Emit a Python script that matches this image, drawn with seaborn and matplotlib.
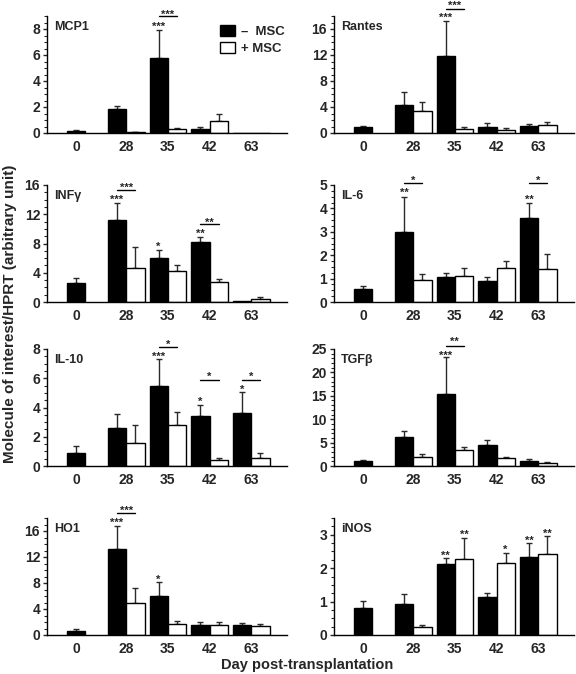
import numpy as np
import pandas as pd
import matplotlib
matplotlib.use("Agg")
import matplotlib.pyplot as plt
from matplotlib.ticker import MultipleLocator, AutoMinorLocator
from matplotlib.patches import Patch
import seaborn as sns

sns.set_style("ticks")
plt.rcParams['font.family'] = ['Liberation Sans', 'DejaVu Sans']
plt.rcParams['font.weight'] = 'bold'

nan = np.nan
days = ['0', '28', '35', '42', '63']
groups = ['\u2013  MSC', '+ MSC']

panels = ['MCP1', 'Rantes', 'INF\u03b3', 'IL-6', 'IL-10', 'TGF\u03b2', 'HO1', 'iNOS']

mcp1_minus = [0.15, 1.85, 5.8, 0.3, 0.0]
mcp1_minus_err = [0.1, 0.25, 2.1, 0.15, 0.0]
mcp1_plus = [nan, 0.05, 0.3, 0.9, 0.0]
mcp1_plus_err = [nan, 0.02, 0.1, 0.55, 0.0]

rantes_minus = [0.95, 4.3, 11.8, 0.95, 1.08]
rantes_minus_err = [0.1, 2.0, 5.5, 0.65, 0.37]
rantes_plus = [nan, 3.45, 0.57, 0.5, 1.29]
rantes_plus_err = [nan, 1.35, 0.3, 0.2, 0.41]

infg_minus = [2.6, 11.15, 6.0, 8.2, 0.1]
infg_minus_err = [0.7, 2.45, 1.1, 0.7, 0.0]
infg_plus = [nan, 4.7, 4.3, 2.7, 0.4]
infg_plus_err = [nan, 2.8, 0.8, 0.4, 0.25]

il6_minus = [0.56, 3.0, 1.05, 0.9, 3.58]
il6_minus_err = [0.13, 1.5, 0.18, 0.17, 0.65]
il6_plus = [nan, 0.95, 1.1, 1.45, 1.42]
il6_plus_err = [nan, 0.24, 0.35, 0.3, 0.63]

il10_minus = [0.91, 2.63, 5.46, 3.4, 3.61]
il10_minus_err = [0.46, 0.91, 1.85, 0.78, 1.42]
il10_plus = [nan, 1.58, 2.79, 0.41, 0.53]
il10_plus_err = [nan, 1.25, 0.87, 0.16, 0.38]

tgfb_minus = [1.0, 6.1, 15.4, 4.4, 1.07]
tgfb_minus_err = [0.3, 1.4, 7.8, 1.2, 0.33]
tgfb_plus = [nan, 1.9, 3.5, 1.77, 0.7]
tgfb_plus_err = [nan, 0.75, 0.6, 0.23, 0.2]

ho1_minus = [0.66, 13.3, 6.0, 1.53, 1.53]
ho1_minus_err = [0.24, 3.5, 2.2, 0.47, 0.37]
ho1_plus = [nan, 4.9, 1.74, 1.58, 1.43]
ho1_plus_err = [nan, 2.4, 0.41, 0.42, 0.27]

inos_minus = [0.82, 0.94, 2.13, 1.15, 2.33]
inos_minus_err = [0.21, 0.3, 0.18, 0.12, 0.42]
inos_plus = [nan, 0.23, 2.28, 2.15, 2.43]
inos_plus_err = [nan, 0.06, 0.62, 0.3, 0.52]

y_max = [9, 18, 16, 5, 8, 25, 18, 3.5]
y_step = [2, 4, 4, 1, 2, 5, 4, 1]

# star marks over bars: (panel, day index, group index, y, text)
stars = [
    (0, 2, 0, 8.4, '***'),
    (1, 2, 0, 18.2, '***'),
    (2, 1, 0, 14.4, '***'), (2, 2, 0, 8.0, '*'), (2, 3, 0, 9.7, '**'),
    (3, 1, 0, 4.8, '**'), (3, 4, 0, 4.5, '**'),
    (4, 2, 0, 7.7, '***'), (4, 3, 0, 4.6, '*'), (4, 4, 0, 5.4, '*'),
    (5, 2, 0, 24.2, '***'),
    (6, 1, 0, 17.7, '***'), (6, 2, 0, 9.0, '*'),
    (7, 2, 0, 2.48, '**'), (7, 2, 1, 3.1, '**'), (7, 3, 1, 2.65, '*'),
    (7, 4, 0, 2.9, '**'), (7, 4, 1, 3.13, '**'),
]
# brackets between -MSC and +MSC: (panel, day index, line y, star y, text)
brackets = [
    (0, 2, 9.0, 9.35, '***'),
    (1, 2, 19.1, 20.0, '***'),
    (2, 1, 15.3, 16.1, '***'), (2, 3, 10.6, 11.3, '**'),
    (3, 1, 5.07, 5.3, '*'), (3, 4, 5.07, 5.3, '*'),
    (4, 2, 8.14, 8.5, '*'), (4, 3, 5.9, 6.3, '*'), (4, 4, 5.9, 6.3, '*'),
    (5, 2, 25.6, 27.2, '**'),
    (6, 1, 18.8, 19.6, '***'),
]

series = [
    (mcp1_minus, mcp1_minus_err, mcp1_plus, mcp1_plus_err),
    (rantes_minus, rantes_minus_err, rantes_plus, rantes_plus_err),
    (infg_minus, infg_minus_err, infg_plus, infg_plus_err),
    (il6_minus, il6_minus_err, il6_plus, il6_plus_err),
    (il10_minus, il10_minus_err, il10_plus, il10_plus_err),
    (tgfb_minus, tgfb_minus_err, tgfb_plus, tgfb_plus_err),
    (ho1_minus, ho1_minus_err, ho1_plus, ho1_plus_err),
    (inos_minus, inos_minus_err, inos_plus, inos_plus_err),
]

# layout
day_pos = [-1.2, 0, 1, 2, 3]
half = 0.22

def bar_x(di, gi):
    if di == 0:
        return day_pos[0]
    return day_pos[di] + (-half if gi == 0 else half)

fig = plt.figure(figsize=(5.76, 6.74), dpi=100)
W, H = 576, 674
col_left = [47, 334]
col_w = 240
rows = [(16, 133), (185, 302), (349, 466), (518, 635)]

palette = {groups[0]: 'black', groups[1]: 'white'}

for p, name in enumerate(panels):
    r, c = divmod(p, 2)
    top, bot = rows[r]
    ax = fig.add_axes([col_left[c] / W, 1 - bot / H, col_w / W, (bot - top) / H])
    mi, mie, pl, ple = series[p]
    recs = []
    for di in range(5):
        for gi, (vals, errs) in enumerate([(mi, mie), (pl, ple)]):
            v = vals[di]
            if v is None or np.isnan(v):
                continue
            recs.append(dict(pos=bar_x(di, gi), val=v, err=errs[di], grp=groups[gi]))
    df = pd.DataFrame(recs)
    sns.barplot(data=df, x='pos', y='val', hue='grp', hue_order=groups, palette=palette,
                native_scale=True, dodge=False, width=1.0, errorbar=None,
                edgecolor='black', linewidth=1.0, legend=False, ax=ax, zorder=2)
    e = df[df['err'] > 0]
    ax.errorbar(e['pos'], e['val'], yerr=[np.zeros(len(e)), e['err']], fmt='none',
                ecolor='#2a2a2a', elinewidth=1.0, capsize=2, capthick=1.0, zorder=1)
    ax.set_xlim(-1.9, 3.86)
    ax.set_ylim(0, y_max[p])
    ax.yaxis.set_major_locator(MultipleLocator(y_step[p]))
    ax.yaxis.set_minor_locator(AutoMinorLocator(4 if p != 5 else 5))
    ax.set_xticks(day_pos)
    ax.set_xticklabels(days)
    ax.tick_params(axis='x', length=0, labelsize=10, pad=5)
    ax.tick_params(axis='y', which='major', length=3, width=1, labelsize=10, pad=2, direction='out')
    ax.tick_params(axis='y', which='minor', length=2, width=0.8, direction='out')
    for lab in ax.get_xticklabels() + ax.get_yticklabels():
        lab.set_fontweight('bold')
    sns.despine(ax=ax)
    for s in ['left', 'bottom']:
        ax.spines[s].set_linewidth(1.0)
        ax.spines[s].set_color('black')
    ax.set_xlabel('')
    ax.set_ylabel('')
    ax.text(0.03, 0.96, name, transform=ax.transAxes, ha='left', va='top',
            fontsize=9, fontweight='bold')
    for (pp, di, gi, y, t) in stars:
        if pp != p:
            continue
        ax.annotate(t, (bar_x(di, gi), y), xytext=(0, -4.5), textcoords='offset points',
                    ha='center', va='baseline', fontsize=8, fontweight='bold', annotation_clip=False)
    for (pp, di, yl, ys, t) in brackets:
        if pp != p:
            continue
        x0, x1 = bar_x(di, 0), bar_x(di, 1)
        ax.plot([x0, x1], [yl, yl], color='black', lw=1.0, clip_on=False)
        ax.annotate(t, ((x0 + x1) / 2, ys), xytext=(0, -4.5), textcoords='offset points',
                    ha='center', va='baseline', fontsize=8, fontweight='bold', annotation_clip=False)
    if p == 0:
        handles = [Patch(facecolor='black', edgecolor='black', label=groups[0]),
                   Patch(facecolor='white', edgecolor='black', label=groups[1])]
        ax.legend(handles=handles, loc='upper right', bbox_to_anchor=(1.03, 1.0), frameon=False,
                  prop=dict(size=9.5, weight='bold'), handlelength=1.1, handleheight=0.9,
                  handletextpad=0.5, labelspacing=0.25, borderpad=0.2)

fig.text(0.017, 0.535, 'Molecule of interest/HPRT (arbitrary unit)', rotation=90,
         ha='center', va='center', fontsize=11, fontweight='bold')
fig.text(0.534, 0.014, 'Day post-transplantation', ha='center', va='center',
         fontsize=10.5, fontweight='bold')

fig.savefig('out.png', dpi=100)
